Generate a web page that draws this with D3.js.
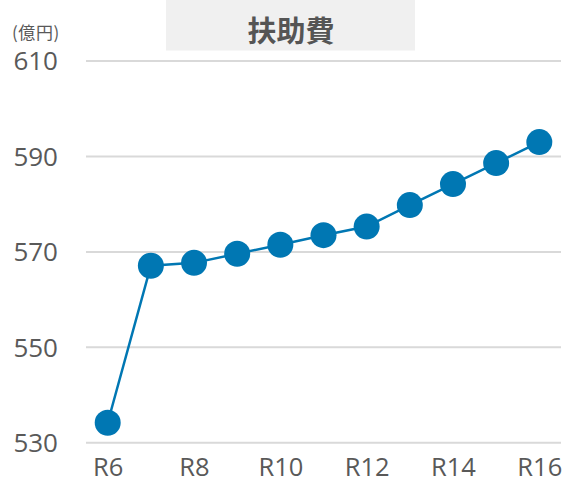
<!DOCTYPE html>
<html>
<head>
<meta charset="utf-8">
<script src="https://cdn.jsdelivr.net/npm/d3@7"></script>
<style>
  html, body { margin: 0; padding: 0; background: #fff; }
  svg { display: block; }
</style>
</head>
<body>
<svg id="chart" width="563" height="479"></svg>
<script>
// 扶助費 (億円), fiscal years R6–R16
const categories = ["R6", "R7", "R8", "R9", "R10", "R11", "R12", "R13", "R14", "R15", "R16"];
const values = [534.1, 567.0, 567.6, 569.5, 571.4, 573.4, 575.2, 579.7, 584.1, 588.5, 592.9];
const yTicks = [530, 550, 570, 590, 610];
const xTickLabels = ["R6", "R8", "R10", "R12", "R14", "R16"];
const title = "扶助費";
const unitLabel = "(億円)";

const svg = d3.select("#chart");
const numFont = "'Open Sans', 'Noto Sans', sans-serif";
const cjkFont = "'Noto Sans CJK JP', 'Noto Sans', sans-serif";
const textColor = "#595959";

const x = d3.scalePoint().domain(categories).range([107.7, 539.3]);
const y = d3.scaleLinear().domain([530, 610]).range([442.3, 60.5]);

// title panel
svg.append("rect")
  .attr("x", 166).attr("y", 0)
  .attr("width", 249).attr("height", 50.5)
  .attr("fill", "#f0f0f0");
svg.append("text")
  .attr("x", 291).attr("y", 28.5)
  .attr("text-anchor", "middle")
  .attr("dominant-baseline", "central")
  .attr("font-family", cjkFont)
  .attr("font-weight", "bold")
  .attr("font-size", 29)
  .attr("fill", "#555")
  .text(title);

// unit label
svg.append("text")
  .attr("x", 12).attr("y", 39)
  .attr("font-family", cjkFont)
  .attr("font-size", 17)
  .attr("letter-spacing", 0.6)
  .attr("fill", textColor)
  .text(unitLabel);

// gridlines + y axis labels
const yAxis = d3.axisLeft(y).tickValues(yTicks).tickSize(-(561 - 86)).tickPadding(0);
const gy = svg.append("g").attr("transform", "translate(86,0)").call(yAxis);
gy.select(".domain").remove();
gy.selectAll(".tick line").attr("stroke", "#d9d9d9").attr("stroke-width", 2);
gy.selectAll(".tick text")
  .attr("x", -28)
  .attr("dy", "0.36em")
  .attr("text-anchor", "end")
  .attr("font-family", numFont)
  .attr("font-size", 26)
  .attr("fill", textColor);

// x axis labels
const xAxis = d3.axisBottom(x).tickValues(xTickLabels).tickSize(0).tickPadding(0);
const gx = svg.append("g").attr("transform", "translate(0,475.5)").call(xAxis);
gx.select(".domain").remove();
gx.selectAll(".tick text")
  .attr("y", 0)
  .attr("dy", null)
  .attr("font-family", numFont)
  .attr("font-size", 25.5)
  .attr("fill", textColor);

// series line and markers
const data = categories.map((c, i) => ({ c, v: values[i] }));
const color = "#0077b3";
svg.append("path")
  .datum(data)
  .attr("fill", "none")
  .attr("stroke", color)
  .attr("stroke-width", 2.5)
  .attr("d", d3.line().x(d => x(d.c)).y(d => y(d.v)));
svg.append("g").selectAll("circle")
  .data(data)
  .join("circle")
  .attr("cx", d => x(d.c))
  .attr("cy", d => y(d.v))
  .attr("r", 13)
  .attr("fill", color);
</script>
</body>
</html>
